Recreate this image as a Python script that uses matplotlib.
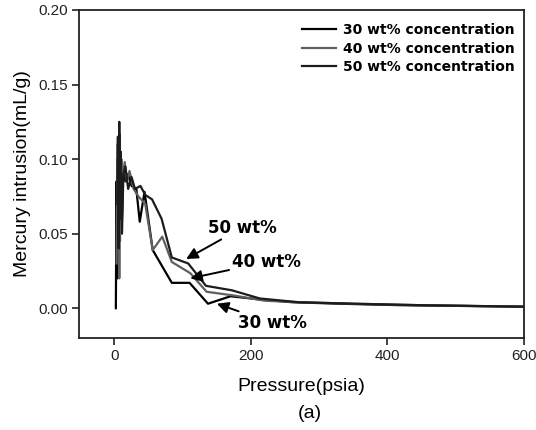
import matplotlib
matplotlib.use("Agg")
import matplotlib.pyplot as plt

# ---- data ----
x30 = [2, 3, 4, 5, 6, 7, 8, 9, 11, 13, 16, 20, 25, 32, 37, 44, 56, 84, 110, 137, 170, 210, 260, 330, 420, 510, 600]
y30 = [0.0, 0.085, 0.02, 0.11, 0.03, 0.117, 0.045, 0.10, 0.06, 0.095, 0.085, 0.09, 0.082, 0.08, 0.058, 0.078,
       0.039, 0.017, 0.017, 0.003, 0.008, 0.006, 0.004, 0.003, 0.002, 0.0015, 0.001]

x40 = [3, 4, 5, 6, 7, 8, 9, 10, 12, 15, 18, 22, 28, 35, 45, 56, 70, 84, 111, 135, 175, 220, 270, 350, 450, 600]
y40 = [0.03, 0.10, 0.04, 0.115, 0.02, 0.09, 0.05, 0.10, 0.085, 0.098, 0.085, 0.092, 0.08, 0.075, 0.07,
       0.039, 0.048, 0.031, 0.0235, 0.011, 0.0085, 0.005, 0.004, 0.003, 0.002, 0.001]

x50 = [4, 5, 6, 7, 8, 9, 11, 13, 16, 20, 25, 30, 38, 45, 55, 69, 84, 108, 134, 172, 213, 270, 350, 450, 600]
y50 = [0.07, 0.115, 0.04, 0.125, 0.06, 0.105, 0.05, 0.09, 0.095, 0.08, 0.088, 0.08, 0.082, 0.076, 0.073,
       0.060, 0.034, 0.030, 0.015, 0.012, 0.0065, 0.004, 0.003, 0.002, 0.001]

series_labels = ["30 wt% concentration", "40 wt% concentration", "50 wt% concentration"]
annot_labels = ["30 wt%", "40 wt%", "50 wt%"]
xticks = [0, 200, 400, 600]
yticks = [0.00, 0.05, 0.10, 0.15, 0.20]

# ---- figure ----
fig = plt.figure(figsize=(5.36, 4.30), dpi=100)
ax = fig.add_axes([79 / 536, 1 - 338 / 430, (524 - 79) / 536, (338 - 10) / 430])

ax.plot(x30, y30, color="#000000", lw=1.6, label=series_labels[0])
ax.plot(x40, y40, color="#5f5f5f", lw=1.6, label=series_labels[1])
ax.plot(x50, y50, color="#1c1c1c", lw=1.6, label=series_labels[2])

ax.set_xlim(-52, 600)
ax.set_ylim(-0.02, 0.20)
ax.set_xticks(xticks)
ax.set_xticklabels([str(v) for v in xticks])
ax.set_yticks(yticks)
ax.set_yticklabels([f"{v:.2f}" for v in yticks])

tick_font = "Liberation Sans"
for lab in ax.get_xticklabels() + ax.get_yticklabels():
    lab.set_fontfamily(tick_font)
    lab.set_fontsize(11)
ax.tick_params(direction="out", length=5, width=1.2, colors="#222222", pad=3)
for sp in ax.spines.values():
    sp.set_linewidth(1.3)
    sp.set_color("#222222")

ax.set_xlabel("Pressure(psia)", fontfamily=tick_font, fontsize=14, labelpad=11)
ax.set_ylabel("Mercury intrusion(mL/g)", fontfamily=tick_font, fontsize=14, labelpad=5)
fig.text(310 / 536, 1 - 413 / 430, "(a)", fontfamily=tick_font, fontsize=14, ha="center", va="center")

leg = ax.legend(loc="upper right", bbox_to_anchor=(515 / 536, 1 - 23 / 430), bbox_transform=fig.transFigure,
                frameon=False, prop={"family": "DejaVu Sans", "weight": "bold", "size": 10},
                handlelength=2.5, handletextpad=0.5, labelspacing=0.33, borderpad=0, borderaxespad=0)

arrow = dict(arrowstyle="-|>", color="black", lw=1.4, mutation_scale=17, shrinkA=0, shrinkB=0)
afont = dict(fontfamily="DejaVu Sans", fontweight="bold", fontsize=12, ha="left", va="center")
ax.annotate(annot_labels[2], xy=(105, 0.033), xytext=(137, 0.054), arrowprops=arrow, **afont)
ax.annotate(annot_labels[1], xy=(111, 0.020), xytext=(172, 0.031), arrowprops=arrow, **afont)
ax.annotate(annot_labels[0], xy=(150, 0.003), xytext=(181, -0.010), arrowprops=arrow, **afont)

fig.savefig("out.png", dpi=100)
